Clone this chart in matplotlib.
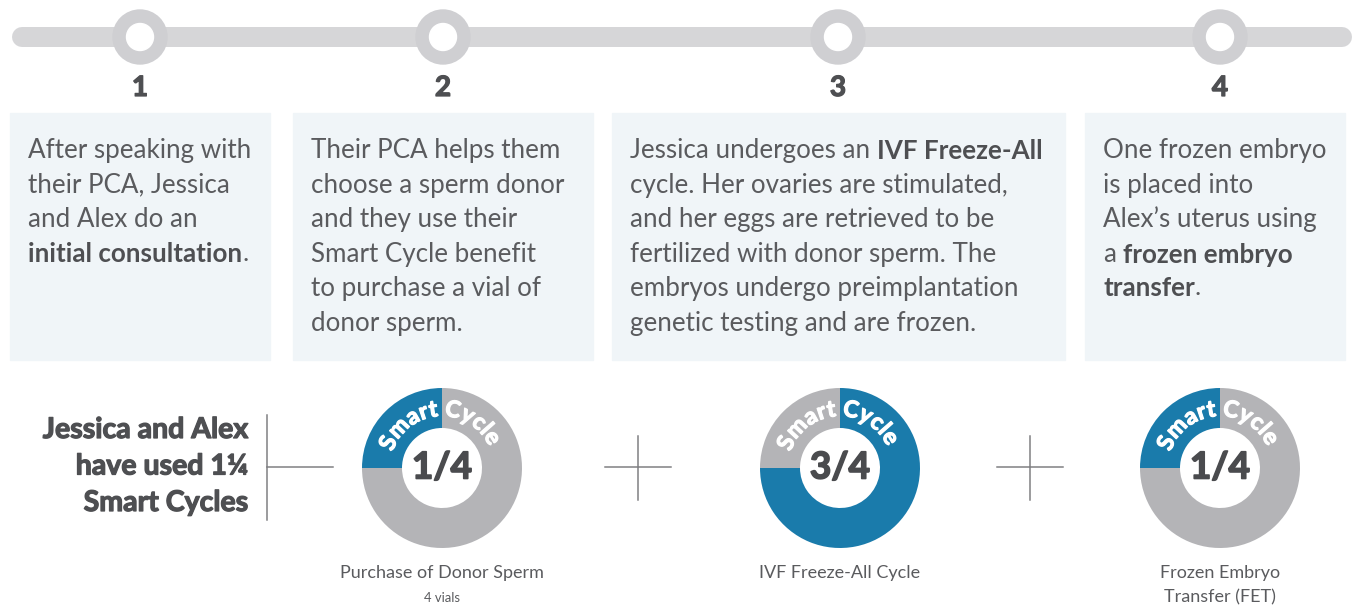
import numpy as np
import matplotlib
matplotlib.use('Agg')
import matplotlib.pyplot as plt
import matplotlib.patheffects as pe
from matplotlib.patches import Circle, Rectangle
from matplotlib.font_manager import FontProperties
from matplotlib.textpath import text_to_path

# ---------------- data ----------------
step_numbers = ['1', '2', '3', '4']

step_text_1 = [[('After speaking with', False)],
               [('their PCA, Jessica', False)],
               [('and Alex do an', False)],
               [('initial consultation', True), ('.', False)]]
step_text_2 = [[('Their PCA helps them', False)],
               [('choose a sperm donor', False)],
               [('and they use their', False)],
               [('Smart Cycle benefit', False)],
               [('to purchase a vial of', False)],
               [('donor sperm.', False)]]
step_text_3 = [[('Jessica undergoes an', False), (' IVF Freeze-All', True)],
               [('cycle. Her ovaries are stimulated,', False)],
               [('and her eggs are retrieved to be', False)],
               [('fertilized with donor sperm. The', False)],
               [('embryos undergo preimplantation', False)],
               [('genetic testing and are frozen.', False)]]
step_text_4 = [[('One frozen embryo', False)],
               [('is placed into', False)],
               [('Alex\u2019s uterus using', False)],
               [('a', False), (' frozen embryo', True)],
               [('transfer', True), ('.', False)]]
step_texts = [step_text_1, step_text_2, step_text_3, step_text_4]

donut_fractions = [0.25, 0.75, 0.25]
donut_center_labels = ['1/4', '3/4', '1/4']
donut_captions = ['Purchase of Donor Sperm', 'IVF Freeze-All Cycle', 'Frozen Embryo\nTransfer (FET)']
donut_subcaptions = ['4 vials', '', '']
ring_words = ['Smart', 'Cycle']
summary_lines = ['Jessica and Alex', 'have used 1\u00bc', 'Smart Cycles']

# ---------------- layout / style ----------------
W, H, DPI = 1356, 605, 100
FONT = ['Lato', 'DejaVu Sans']
PT = 72.0 / DPI
TXT = '#5a5b5e'
TXT_B = '#4e4f52'
BLUE = '#1a7bab'
GREY = '#b4b4b7'
BAR = '#d6d6d8'
BOX = '#f0f5f8'
LINE = '#7d7d80'
HEAVY = 'bold'


def thick(color, w=0.9):
    return [pe.withStroke(linewidth=w, foreground=color)]


step_x = [140, 443, 838, 1220]
boxes = [(10, 270), (293, 593), (612, 1065), (1085, 1345)]
box_top, box_bot = 113, 360
text_pad = 18
line_h = 34.6
first_base = 158
body_px = 26

donut_cx = [442, 840, 1220]
donut_cy = 468
donut_r = 80

fig = plt.figure(figsize=(W / DPI, H / DPI), dpi=DPI)
ax = fig.add_axes([0, 0, 1, 1])
ax.set_xlim(0, W)
ax.set_ylim(H, 0)
ax.axis('off')

# timeline
ax.plot([22, W - 14], [37, 37], color=BAR, lw=20 * PT, solid_capstyle='round', zorder=1)
for x, n in zip(step_x, step_numbers):
    ax.add_patch(Circle((x, 37), 27, color='#cfcfd2', zorder=2))
    ax.add_patch(Circle((x, 37), 13.5, color='white', zorder=3))
    ax.text(x, 88, n, ha='center', va='center', fontsize=28 * PT, fontweight=HEAVY,
            color=TXT_B, family=FONT, path_effects=thick(TXT_B))

space_px = body_px * 0.26


def rich_line(x, y, segs, fs_px):
    prev = None
    for s, bold in segs:
        gap = 0
        if s.startswith(' '):
            gap = space_px
            s = s.lstrip()
        kw = dict(fontsize=fs_px * PT, color=TXT_B if bold else TXT, family=FONT,
                  fontweight='bold' if bold else 'normal')
        if prev is None:
            prev = ax.text(x, y, s, ha='left', va='baseline', **kw)
        else:
            prev = ax.annotate(s, xy=(1, 0), xycoords=prev, xytext=(gap, 0),
                               textcoords='offset pixels', ha='left', va='bottom', **kw)


for (x0, x1), lines in zip(boxes, step_texts):
    ax.add_patch(Rectangle((x0, box_top), x1 - x0, box_bot - box_top, color=BOX, zorder=0))
    for i, segs in enumerate(lines):
        rich_line(x0 + text_pad, first_base + i * line_h, segs, body_px)

# summary text and connectors
for i, s in enumerate(summary_lines):
    ax.text(248, 430 + i * 36.5, s, ha='right', va='center', fontsize=28.5 * PT,
            fontweight=HEAVY, color=TXT_B, family=FONT, path_effects=thick(TXT_B))
ax.plot([267, 267], [415, 520], color=LINE, lw=1.5 * PT)
ax.plot([267, 333], [467, 467], color=LINE, lw=1.5 * PT)
for cx in [638, 1030]:
    ax.plot([cx - 33, cx + 33], [467, 467], color=LINE, lw=1.5 * PT)
    ax.plot([cx, cx], [436, 500], color=LINE, lw=1.5 * PT)


def arc_text(pax, text, center_deg, r, fs_px, track_px):
    prop = FontProperties(family='Lato', weight=HEAVY, size=fs_px)
    widths = [text_to_path.get_text_width_height_descent(ch, prop, ismath=False)[0] for ch in text]
    total = sum(widths) + track_px * (len(text) - 1)
    r_px = r * donut_r
    start = np.deg2rad(center_deg) + total / 2 / r_px
    pos = 0
    for ch, w in zip(text, widths):
        ang = start - (pos + w / 2) / r_px
        pax.text(r * np.cos(ang), r * np.sin(ang), ch, rotation=np.rad2deg(ang) - 90,
                 rotation_mode='anchor', ha='center', va='baseline', fontsize=fs_px * PT,
                 fontweight=HEAVY, color='white', family=FONT, path_effects=thick('white'))
        pos += w + track_px


start_angles = [90, 180, 90]
for cx, frac, lab, cap, sub, sa in zip(donut_cx, donut_fractions, donut_center_labels,
                                        donut_captions, donut_subcaptions, start_angles):
    pax = fig.add_axes([(cx - donut_r) / W, 1 - (donut_cy + donut_r) / H,
                        2 * donut_r / W, 2 * donut_r / H])
    pax.pie([frac, 1 - frac], colors=[BLUE, GREY], startangle=sa, counterclock=True,
            radius=1, wedgeprops=dict(width=0.5, linewidth=0))
    pax.set_xlim(-1, 1)
    pax.set_ylim(-1, 1)
    pax.set_aspect('equal')
    pax.axis('off')
    arc_text(pax, ring_words[0], 128, 0.65, 23, 0.3)
    arc_text(pax, ring_words[1], 56, 0.65, 23, 0.3)
    pax.text(0, 0, lab, ha='center', va='center', fontsize=37 * PT, fontweight=HEAVY,
             color='#4a4b4e', family=FONT, path_effects=thick('#4a4b4e', 1.2))
    cap_lines = cap.split('\n')
    for j, cl in enumerate(cap_lines):
        ax.text(cx, 573 + j * 24, cl, ha='center', va='center', fontsize=18 * PT,
                color=TXT, family=FONT)
    if sub:
        ax.text(cx, 598, sub, ha='center', va='center', fontsize=13 * PT, color=TXT, family=FONT)

fig.savefig('out.png', dpi=DPI)
